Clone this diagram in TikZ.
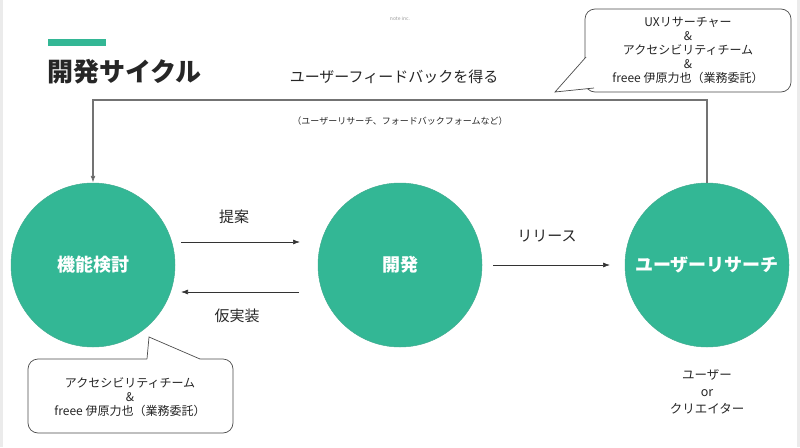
\documentclass[tikz,border=0pt]{standalone}
\usepackage{fontspec}
\setmainfont{Noto Sans CJK JP}
\usetikzlibrary{arrows.meta}
\definecolor{teal1}{HTML}{33B795}
\definecolor{linegray}{HTML}{333333}
\tikzset{
  stage/.style={circle, fill=teal1, draw=teal1!80!gray, line width=0.5pt, minimum size=164pt, inner sep=0pt, text=white, font=\fontsize{18}{20}\selectfont\bfseries},
  flow/.style={draw=linegray, line width=0.7pt, -{Latex[length=7pt,width=5pt]}},
  lbl/.style={font=\fontsize{15}{17}\selectfont, text=black!85, inner sep=0pt},
  callout/.style={draw=black!70, line width=0.7pt, fill=white, rounded corners=10pt},
  ctext/.style={font=\fontsize{12}{15}\selectfont, align=center, text=black!85, inner sep=0pt},
}
\begin{document}
\begin{tikzpicture}[x=1pt,y=-1pt]
\useasboundingbox (0,0) rectangle (800,447);
\fill[black!8] (0,0) rectangle (3,447);
\fill[black!8] (797,0) rectangle (800,447);
% header
\node[font=\fontsize{5}{6}\selectfont, text=black!40] (note) at (400,19) {note inc.};
\fill[teal1] (48,39) rectangle (106,46);
\node[anchor=west, font=\fontsize{26}{28}\selectfont\bfseries, text=black!85, inner sep=0pt] (title) at (47,72) {開発サイクル};
% stages
\node[stage] (c1) at (93,265) {機能検討};
\node[stage] (c2) at (400,265) {開発};
\node[stage] (c3) at (707,265) {ユーザーリサーチ};
% arrows
\coordinate (a1s) at (181,242); \coordinate (a1e) at (300,242);
\coordinate (a2s) at (299,292); \coordinate (a2e) at (181,292);
\coordinate (a3s) at (493,265); \coordinate (a3e) at (610,265);
\draw[flow] (a1s) -- (a1e);
\draw[flow] (a2s) -- (a2e);
\draw[flow] (a3s) -- (a3e);
\node[lbl] (l1) at (234,217) {提案};
\node[lbl] (l2) at (237,316) {仮実装};
\node[lbl] (l3) at (547,236) {リリース};
% feedback loop
\coordinate (fb) at (400,100);
\draw[draw=black!55, line width=1.1pt] (c3.north) |- (fb);
\draw[draw=black!55, line width=1.1pt, -{Latex[length=7pt,width=5pt,fill=linegray]}] (fb) -| (c1.north);
\node[lbl] (fbl) at (394,77) {ユーザーフィードバックを得る};
\node[font=\fontsize{9}{10}\selectfont, text=black!85, inner sep=0pt] (fbs) at (400,121) {（ユーザーリサーチ、フォードバックフォームなど）};
% top-right callout
\draw[callout] (585,9) rectangle (791,92);
\coordinate (t1) at (586,57); \coordinate (t2) at (594,88); \coordinate (tap) at (555,92);
\fill[white] (t1) -- (tap) -- (t2) -- (594,80) -- (588,60) -- cycle;
\draw[black!70, line width=0.7pt] (t1) -- (tap) -- (t2);
\node[ctext] (ct1) at (688,50) {UXリサーチャー\\[-1pt]\&\\[-1pt]アクセシビリティチーム\\[-1pt]\&\\[-1pt]freee 伊原力也（業務委託）};
% bottom-left callout
\draw[callout] (28,359) rectangle (233,433);
\coordinate (b1) at (147,359); \coordinate (b2) at (200,359); \coordinate (bap) at (149,337);
\fill[white] (b1) -- (bap) -- (b2) -- (200,361) -- (147,361) -- cycle;
\draw[black!70, line width=0.7pt] (b1) -- (bap) -- (b2);
\node[ctext] (ct2) at (130,397) {アクセシビリティチーム\\[-1pt]\&\\[-1pt]freee 伊原力也（業務委託）};
% user label
\node[ctext, font=\fontsize{12.5}{17}\selectfont] (users) at (707,392) {ユーザー\\or\\クリエイター};
\end{tikzpicture}
\end{document}
